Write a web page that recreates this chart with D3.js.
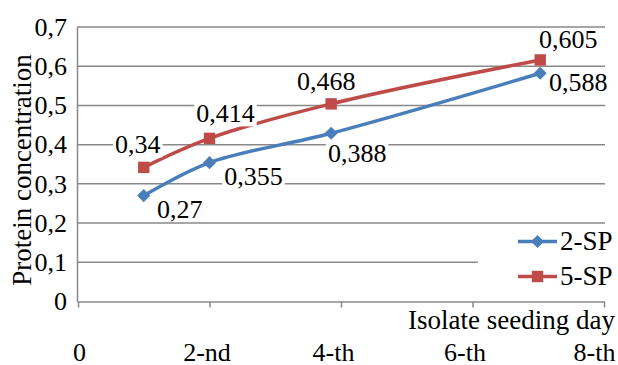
<!DOCTYPE html>
<html>
<head>
<meta charset="utf-8">
<script src="https://cdn.jsdelivr.net/npm/d3@7"></script>
<style>
	body { margin: 0; background: #fff; }
</style>
</head>
<body>
<svg class="viz" width="618" height="365" font-family="Liberation Serif"></svg>
<script>
// *** Chart data ***
const seriesNames = ["2-SP", "5-SP"];
const days = [1, 2, 3.85, 7.03];
const sp2Values = [0.27, 0.354, 0.429, 0.582];
const sp5Values = [0.342, 0.416, 0.504, 0.616];
const sp2Labels = ["0,27", "0,355", "0,388", "0,588"];
const sp5Labels = ["0,34", "0,414", "0,468", "0,605"];
const xTicks = [0, 2, 4, 6, 8];
const xTickLabels = ["0", "2-nd", "4-th", "6-th", "8-th"];
const yTicks = [0, 0.1, 0.2, 0.3, 0.4, 0.5, 0.6, 0.7];

const colors = ["#4a7ebb", "#be4b48"];
const FONT = "Liberation Serif";
// label offsets relative to their point (dx, dy of text centre/baseline)
const labelOffsets = [
	[[36, 22], [44, 22], [26, 29], [38, 18]],
	[[-6, -14], [16, -16], [-5, -14], [28, -12]]
];
// x tick labels sit a little left of their ticks in the original
const xLabelShift = [1, -3, -8, -8, -10];

function render() {
	let grph = d3.select(".viz");
	const left = 77, right = 605, top = 27, bttm = 301.5;

	let x = d3.scaleLinear().domain([0, 8]).range([left + 1, right - 1]);
	let y = d3.scaleLinear().domain([0, 0.7]).range([bttm, top]);
	let fmt = (v) => d3.format(".1f")(v).replace(".", ",");

	// gridlines
	grph.append("g").selectAll("line")
		.data(yTicks.slice(1))
		.join("line")
		.attr("x1", left).attr("x2", right)
		.attr("y1", (d) => y(d)).attr("y2", (d) => y(d))
		.attr("stroke", "#898989").attr("stroke-width", 1.5);

	// y axis
	let ay = grph.append("g").attr("transform", "translate(" + left + ",0)")
		.call(d3.axisLeft(y).tickValues(yTicks).tickSize(0).tickPadding(10)
			.tickFormat((d) => d === 0 ? "0" : fmt(d)));
	ay.attr("font-family", FONT);
	ay.select(".domain").attr("stroke", "#898989").attr("stroke-width", 1.5);
	ay.selectAll("text").attr("font-size", 26).attr("font-family", FONT).attr("fill", "#000");

	// x axis
	let ax = grph.append("g").attr("transform", "translate(0," + bttm + ")")
		.call(d3.axisBottom(x).tickValues(xTicks).tickSizeOuter(0).tickSizeInner(6)
			.tickFormat((d, i) => xTickLabels[i]).tickPadding(38));
	ax.attr("font-family", FONT);
	ax.select(".domain").attr("stroke", "#898989").attr("stroke-width", 1.5);
	ax.selectAll(".tick line").attr("stroke", "#898989").attr("stroke-width", 1.5);
	ax.selectAll("text").attr("font-size", 26).attr("font-family", FONT).attr("fill", "#000")
		.attr("dy", "0.6em")
		.attr("dx", (d, i) => xLabelShift[i]);

	// axis titles
	grph.append("text")
		.attr("transform", "translate(31,170)rotate(-90)")
		.attr("text-anchor", "middle")
		.attr("font-family", FONT)
		.attr("font-size", 27)
		.text("Protein concentration");
	grph.append("text")
		.attr("x", 615).attr("y", 329)
		.attr("text-anchor", "end")
		.attr("font-family", FONT)
		.attr("font-size", 27)
		.text("Isolate seeding day");

	// legend box (covers grid)
	grph.append("rect").attr("x", 478).attr("y", 224.5).attr("width", 127).attr("height", 69).attr("fill", "#fff");

	// lines
	let series = [sp2Values, sp5Values];
	let labels = [sp2Labels, sp5Labels];
	let line = d3.line()
		.x((d, i) => x(days[i]))
		.y((d) => y(d))
		.curve(d3.curveCatmullRom.alpha(0.5));

	series.forEach((vals, s) => {
		grph.append("path")
			.attr("d", line(vals))
			.attr("fill", "none")
			.attr("stroke", colors[s])
			.attr("stroke-width", 3.5);
	});

	// markers
	let diamond = d3.symbol().type(d3.symbolDiamond2).size(110);
	let square = d3.symbol().type(d3.symbolSquare).size(130);
	series.forEach((vals, s) => {
		grph.append("g").selectAll("path")
			.data(vals)
			.join("path")
			.attr("transform", (d, i) => "translate(" + x(days[i]) + "," + y(d) + ")")
			.attr("d", s === 0 ? diamond : square)
			.attr("fill", colors[s]);
	});

	// data labels with white background
	series.forEach((vals, s) => {
		vals.forEach((v, i) => {
			let off = labelOffsets[s][i];
			let g = grph.append("g")
				.attr("transform", "translate(" + (x(days[i]) + off[0]) + "," + (y(v) + off[1]) + ")");
			let t = g.append("text")
				.attr("text-anchor", "middle")
				.attr("font-family", FONT)
				.attr("font-size", 26)
				.text(labels[s][i]);
			let bb = t.node().getBBox();
			g.insert("rect", "text")
				.attr("x", bb.x - 2).attr("y", bb.y + 4)
				.attr("width", bb.width + 4).attr("height", bb.height - 6)
				.attr("fill", "#fff");
		});
	});

	// legend entries
	seriesNames.forEach((name, s) => {
		let ly = 241.5 + s * 35;
		grph.append("line")
			.attr("x1", 518).attr("x2", 557)
			.attr("y1", ly).attr("y2", ly)
			.attr("stroke", colors[s]).attr("stroke-width", 3.5);
		grph.append("path")
			.attr("transform", "translate(537.5," + ly + ")")
			.attr("d", s === 0 ? diamond : square)
			.attr("fill", colors[s]);
		grph.append("text")
			.attr("x", 560).attr("y", ly + 8)
			.attr("font-family", FONT)
			.attr("font-size", 27)
			.text(name);
	});
}

render();
</script>
</body>
</html>
